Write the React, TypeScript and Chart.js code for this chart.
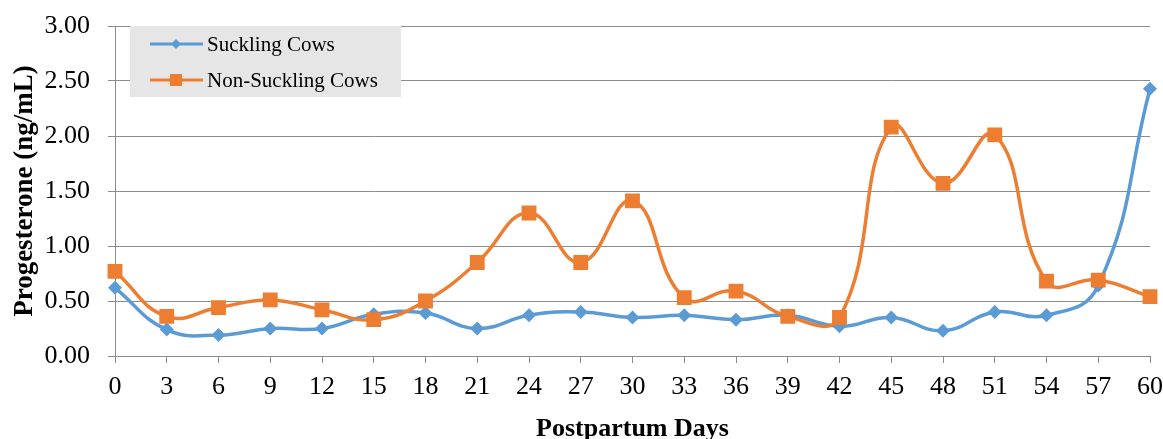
import React, { useEffect, useRef } from "react";
import { Chart, registerables } from "chart.js";

Chart.register(...registerables);

const days = ["0", "3", "6", "9", "12", "15", "18", "21", "24", "27", "30", "33", "36", "39", "42", "45", "48", "51", "54", "57", "60"];
const suckling = [0.62, 0.24, 0.19, 0.25, 0.25, 0.38, 0.39, 0.25, 0.37, 0.40, 0.35, 0.37, 0.33, 0.37, 0.27, 0.35, 0.23, 0.40, 0.37, 0.64, 2.43];
const nonSuckling = [0.77, 0.36, 0.44, 0.51, 0.42, 0.33, 0.50, 0.85, 1.30, 0.85, 1.41, 0.53, 0.59, 0.36, 0.35, 2.08, 1.57, 2.01, 0.68, 0.69, 0.54];
const seriesNames = ["Suckling Cows", "Non-Suckling Cows"];
const xTitle = "Postpartum Days";
const yTitle = "Progesterone (ng/mL)";

const BLUE = "#5B9BD5";
const ORANGE = "#ED7D31";
const SERIF = "'Liberation Serif', 'Times New Roman', serif";

const legendPlugin = {
  id: "boxLegend",
  afterDraw(chart: any) {
    const ctx = chart.ctx;
    ctx.save();
    ctx.fillStyle = "#e6e6e6";
    ctx.fillRect(130, 26, 271, 71);
    const rows = [
      { y: 44, color: BLUE, style: "diamond", label: seriesNames[0] },
      { y: 80, color: ORANGE, style: "square", label: seriesNames[1] },
    ];
    rows.forEach((r) => {
      ctx.strokeStyle = r.color;
      ctx.lineWidth = 3;
      ctx.beginPath();
      ctx.moveTo(150, r.y);
      ctx.lineTo(203, r.y);
      ctx.stroke();
      ctx.fillStyle = r.color;
      const cx = 176;
      if (r.style === "diamond") {
        ctx.beginPath();
        ctx.moveTo(cx, r.y - 5);
        ctx.lineTo(cx + 5, r.y);
        ctx.lineTo(cx, r.y + 5);
        ctx.lineTo(cx - 5, r.y);
        ctx.closePath();
        ctx.fill();
      } else {
        ctx.fillRect(cx - 6, r.y - 6, 12, 12);
      }
      ctx.fillStyle = "#000";
      ctx.font = `21px ${SERIF}`;
      ctx.textBaseline = "middle";
      ctx.textAlign = "left";
      ctx.fillText(r.label, 207, r.y + 1);
    });
    ctx.restore();
  },
};

export default function App() {
  const ref = useRef<HTMLCanvasElement | null>(null);
  useEffect(() => {
    if (!ref.current) return;
    const chart = new Chart(ref.current, {
      type: "line",
      data: {
        labels: days,
        datasets: [
          {
            label: seriesNames[0],
            data: suckling,
            borderColor: BLUE,
            backgroundColor: BLUE,
            borderWidth: 3.5,
            pointStyle: "rectRot",
            pointRadius: 7,
            pointBorderWidth: 0,
            tension: 0.45,
            order: 2,
          },
          {
            label: seriesNames[1],
            data: nonSuckling,
            borderColor: ORANGE,
            backgroundColor: ORANGE,
            borderWidth: 3.5,
            pointStyle: "rect",
            pointRadius: 10.5,
            pointBorderWidth: 0,
            tension: 0.45,
            order: 1,
          },
        ],
      },
      options: {
        animation: false,
        responsive: false,
        maintainAspectRatio: false,
        layout: { padding: { top: 26, right: 13, left: 0, bottom: 0 } },
        plugins: { legend: { display: false }, tooltip: { enabled: false } },
        scales: {
          x: {
            offset: false,
            grid: { display: true, drawOnChartArea: false, drawTicks: true, tickLength: 7, color: "#8c8c8c" },
            border: { color: "#8c8c8c", width: 1 },
            ticks: { color: "#000", font: { family: SERIF, size: 26 }, padding: 9, maxRotation: 0, autoSkip: false },
            title: { display: true, text: xTitle, color: "#000", font: { family: SERIF, size: 26, weight: "bold" }, padding: { top: 0, bottom: -6 } },
            afterFit: (s: any) => { s.height = 83; s.paddingLeft = 0; s.paddingRight = 0; s.paddingTop = 0; s.paddingBottom = 0; },
          },
          y: {
            min: 0,
            max: 3,
            grid: { color: "#8c8c8c", tickLength: 7 },
            border: { color: "#8c8c8c", width: 1 },
            ticks: { stepSize: 0.5, color: "#000", font: { family: SERIF, size: 26 }, padding: 18, callback: (v: any) => Number(v).toFixed(2) },
            title: { display: true, text: yTitle, color: "#000", font: { family: SERIF, size: 27, weight: "bold" }, padding: { top: 9, bottom: 4 } },
            afterFit: (s: any) => { s.width = 115; s.paddingTop = 0; s.paddingBottom = 0; s.paddingLeft = 0; s.paddingRight = 0; },
          },
        },
      },
      plugins: [legendPlugin],
    });
    return () => chart.destroy();
  }, []);
  return (
    <div style={{ position: "fixed", left: 0, top: 0, width: 1163, height: 439, background: "#fff" }}>
      <canvas ref={ref} width={1163} height={439} style={{ width: 1163, height: 439 }} />
    </div>
  );
}
